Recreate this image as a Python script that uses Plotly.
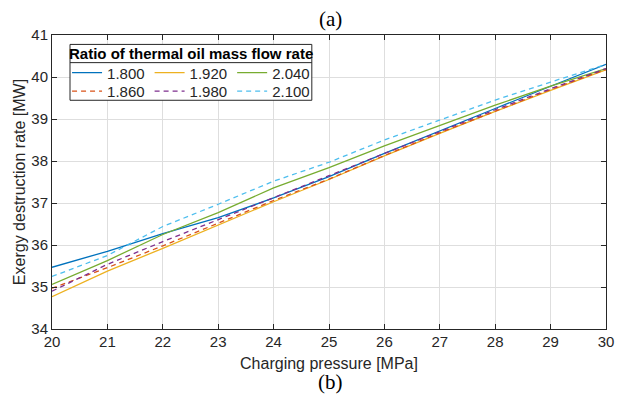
import plotly.graph_objects as go

pressure = [20, 21, 22, 23, 24, 25, 26, 27, 28, 29, 30]

ratio_labels = ["1.800", "1.920", "2.040", "1.860", "1.980", "2.100"]

r_1800 = [35.47, 35.85, 36.27, 36.65, 37.12, 37.63, 38.18, 38.72, 39.25, 39.78, 40.30]
r_1920 = [34.77, 35.38, 35.92, 36.47, 37.03, 37.56, 38.12, 38.66, 39.18, 39.68, 40.17]
r_2040 = [35.06, 35.63, 36.25, 36.77, 37.36, 37.84, 38.36, 38.85, 39.33, 39.78, 40.20]
r_1860 = [34.97, 35.46, 35.98, 36.52, 37.06, 37.57, 38.13, 38.67, 39.18, 39.70, 40.18]
r_1980 = [34.90, 35.54, 36.08, 36.60, 37.12, 37.65, 38.18, 38.70, 39.22, 39.72, 40.20]
r_2100 = [35.25, 35.75, 36.44, 36.97, 37.52, 37.97, 38.50, 38.98, 39.45, 39.88, 40.30]

series = [r_1800, r_1920, r_2040, r_1860, r_1980, r_2100]
colors = ["#0072BD", "#EDB120", "#77AC30", "#D95319", "#7E2F8E", "#4DBEEE"]
dashes = ["solid", "solid", "solid", "5px,4px", "5px,4px", "5px,4px"]
legends = ["legend", "legend", "legend", "legend2", "legend2", "legend2"]

x_ticks = list(range(20, 31))
y_ticks = list(range(34, 42))

FONT = "Liberation Sans, Arial, sans-serif"
SERIF = "Liberation Serif, Times New Roman, serif"
TXT = "#262626"

fig = go.Figure()
for lab, vals, col, dsh, lg in zip(ratio_labels, series, colors, dashes, legends):
    fig.add_trace(go.Scatter(
        x=pressure, y=vals, mode="lines", name=lab,
        line=dict(color=col, width=1.3, dash=dsh),
        legend=lg,
    ))

leg_common = dict(
    orientation="h", xanchor="center", yanchor="middle",
    bgcolor="rgba(0,0,0,0)", borderwidth=0,
    font=dict(family=FONT, size=15, color=TXT),
    itemwidth=30, tracegroupgap=0,
)

fig.update_layout(
    width=631, height=403,
    margin=dict(l=52, r=25, t=35, b=74),
    paper_bgcolor="white", plot_bgcolor="white",
    font=dict(family=FONT, size=15, color=TXT),
    legend=dict(x=0.251, y=0.871, **leg_common),
    legend2=dict(x=0.251, y=0.8085, **leg_common),
    xaxis=dict(
        range=[20, 30], tickvals=x_ticks, ticks="inside", ticklen=5,
        tickcolor=TXT, showline=True, linecolor=TXT, linewidth=1,
        mirror="ticks", showgrid=True, gridcolor="#dedede", gridwidth=1,
        zeroline=False, tickfont=dict(family=FONT, size=15, color=TXT),
        ticklabelstandoff=-1,
        title=dict(text="Charging pressure [MPa]", standoff=8,
                   font=dict(family=FONT, size=16, color=TXT)),
    ),
    yaxis=dict(
        range=[34, 41], tickvals=y_ticks, ticks="inside", ticklen=5,
        tickcolor=TXT, showline=True, linecolor=TXT, linewidth=1,
        mirror="ticks", showgrid=True, gridcolor="#dedede", gridwidth=1,
        zeroline=False, tickfont=dict(family=FONT, size=15, color=TXT),
        title=dict(text="Exergy destruction rate [MW]", standoff=1,
                   font=dict(family=FONT, size=16, color=TXT)),
    ),
    shapes=[
        dict(type="rect", xref="paper", yref="paper",
             x0=0.0325, x1=0.469, y0=0.778, y1=0.968,
             line=dict(color=TXT, width=1), fillcolor="white", layer="above"),
        dict(type="line", xref="paper", yref="paper",
             x0=0.0325, x1=0.469, y0=0.906, y1=0.906,
             line=dict(color=TXT, width=1), layer="above"),
    ],
    annotations=[
        dict(text="<b>Ratio of thermal oil mass flow rate</b>", xref="paper",
             yref="paper", x=0.251, y=0.937, showarrow=False,
             xanchor="center", yanchor="middle",
             font=dict(family=FONT, size=15, color="black")),
        dict(text="(a)", xref="paper", yref="paper", x=0.502, y=1.053,
             showarrow=False, xanchor="center", yanchor="middle",
             font=dict(family=SERIF, size=21, color="black")),
        dict(text="(b)", xref="paper", yref="paper", x=0.502, y=-0.18,
             showarrow=False, xanchor="center", yanchor="middle",
             font=dict(family=SERIF, size=21, color="black")),
    ],
)

fig.write_html("out.html", config={"displayModeBar": False},
               post_script="document.body.style.margin='0';")
